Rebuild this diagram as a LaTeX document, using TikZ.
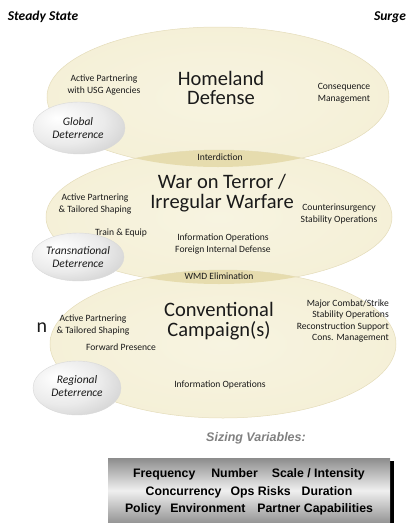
\documentclass[tikz,border=0pt]{standalone}
\usepackage{fontspec}
\setmainfont{Carlito}
\newfontfamily\arialfont{Liberation Sans}
\usetikzlibrary{positioning}

\definecolor{cream}{HTML}{F4EFD4}
\definecolor{creamdark}{HTML}{D8CD9C}
\definecolor{lenscol}{HTML}{E6DCAE}
\definecolor{inktext}{HTML}{1A1A1A}
\pgfdeclareradialshading{ringshade}{\pgfpoint{0bp}{0bp}}{color(0bp)=(cream!70!white);color(34bp)=(cream);color(47bp)=(cream!85!creamdark);color(50bp)=(creamdark)}
\pgfdeclareradialshading{greyshade}{\pgfpoint{-12bp}{10bp}}{color(0bp)=(white);color(22bp)=(black!8);color(45bp)=(black!24);color(70bp)=(black!34)}

\tikzset{
  ring/.style={shading=ringshade, draw=creamdark!70, line width=0.5pt},
  lens/.style={fill=lenscol},
  deterell/.style={shading=greyshade, draw=black!15, line width=0.4pt},
  bigtitle/.style={font=\fontsize{20.5}{19.5}\selectfont, align=center, text=inktext, inner sep=0pt},
  smalltxt/.style={font=\fontsize{9.6}{11.5}\selectfont, align=center, text=inktext, inner sep=0pt},
  detertxt/.style={font=\itshape\fontsize{11.5}{13}\selectfont, align=center, text=inktext, inner sep=0pt},
  headtxt/.style={font=\bfseries\itshape\fontsize{13.5}{14}\selectfont, text=black, inner sep=0pt},
  sizetxt/.style={font=\arialfont\bfseries\fontsize{12.3}{17.5}\selectfont, align=center, text=black, inner sep=0pt}
}

\begin{document}
\begin{tikzpicture}[x=1pt,y=-1pt]
		\useasboundingbox (0,0) rectangle (414,523);
		
		\foreach \cx/\cy/\rx/\ry in {218/97/171/70, 219/217/173/67, 223/344/173/74}
		\path[ring] (\cx,\cy) ellipse [x radius=\rx, y radius=\ry];
		\begin{scope}
			\clip (218,97) ellipse [x radius=171, y radius=70];
			\path[lens] (219,217) ellipse [x radius=173, y radius=67];
		\end{scope}
		\begin{scope}
			\clip (219,217) ellipse [x radius=173, y radius=67];
			\path[lens] (223,344) ellipse [x radius=173, y radius=74];
		\end{scope}
		\foreach \cx/\cy/\rx/\ry in {79/128/46/26, 78/257/46/24, 77/388/44/27}
		\path[deterell] (\cx,\cy) ellipse [x radius=\rx, y radius=\ry];
		
		\node[headtxt] (steady) at (43,17) {Steady State};
		\node[headtxt] (surge) at (390,17) {Surge};
		
		\node[smalltxt] (apusg) at (104,85) {Active Partnering\\with USG Agencies};
		\node[bigtitle] (homeland) at (221,88) {Homeland\\Defense};
		\node[smalltxt] (conseq) at (344,93) {Consequence\\Management};
		\node[detertxt] (global) at (78,128) {Global\\Deterrence};
		\node[smalltxt] (interd) at (220,157) {Interdiction};
		
		\node[bigtitle] (wot) at (222,193) {War on Terror /\\Irregular Warfare};
		\node[smalltxt] (apts) at (95,204) {Active Partnering\\\& Tailored Shaping};
		\node[smalltxt] (coin) at (339,214) {Counterinsurgency\\Stability Operations};
		\node[smalltxt] (traineq) at (121,233) {Train \& Equip};
		\node[smalltxt] (infofid) at (223,244) {Information Operations\\Foreign Internal Defense};
		\node[detertxt] (transnat) at (78,257) {Transnational\\Deterrence};
		\node[smalltxt] (wmd) at (219,276) {WMD Elimination};
		
		\node[bigtitle] (conv) at (219,321) {Conventional\\Campaign(s)};
		\node[smalltxt] (apts2) at (93,325) {Active Partnering\\\& Tailored Shaping};
		\node[smalltxt, align=right, anchor=east] (mcs) at (389,321) {Major Combat/Strike\\Stability Operations\\Reconstruction Support\\Cons. Management};
		\node[smalltxt] (fwdpres) at (121,347) {Forward Presence};
		\node[detertxt] (regional) at (77,386) {Regional\\Deterrence};
		\node[smalltxt] (infoops) at (220,385) {Information Operations};
		\node[font=\fontsize{20}{20}\selectfont, text=inktext, inner sep=0pt] (strayn) at (42,328) {n};
		
		\node[font=\arialfont\bfseries\itshape\fontsize{12.5}{14}\selectfont, text=black!50, inner sep=0pt] (sizinghead) at (256,438) {Sizing Variables:};
		\fill[black] (389,461) rectangle (394,523);
		\shade[top color=black!45, bottom color=black!42, middle color=black!6] (108,458) rectangle (390,523);
		\node[sizetxt] (sizing) at (249,492) {Frequency\hspace{16pt}Number\hspace{14pt}Scale / Intensity\\
			Concurrency\hspace{9pt}Ops Risks\hspace{11pt}Duration\\
			Policy\hspace{9pt}Environment\hspace{12pt}Partner Capabilities};
		
	\end{tikzpicture}
\end{document}
